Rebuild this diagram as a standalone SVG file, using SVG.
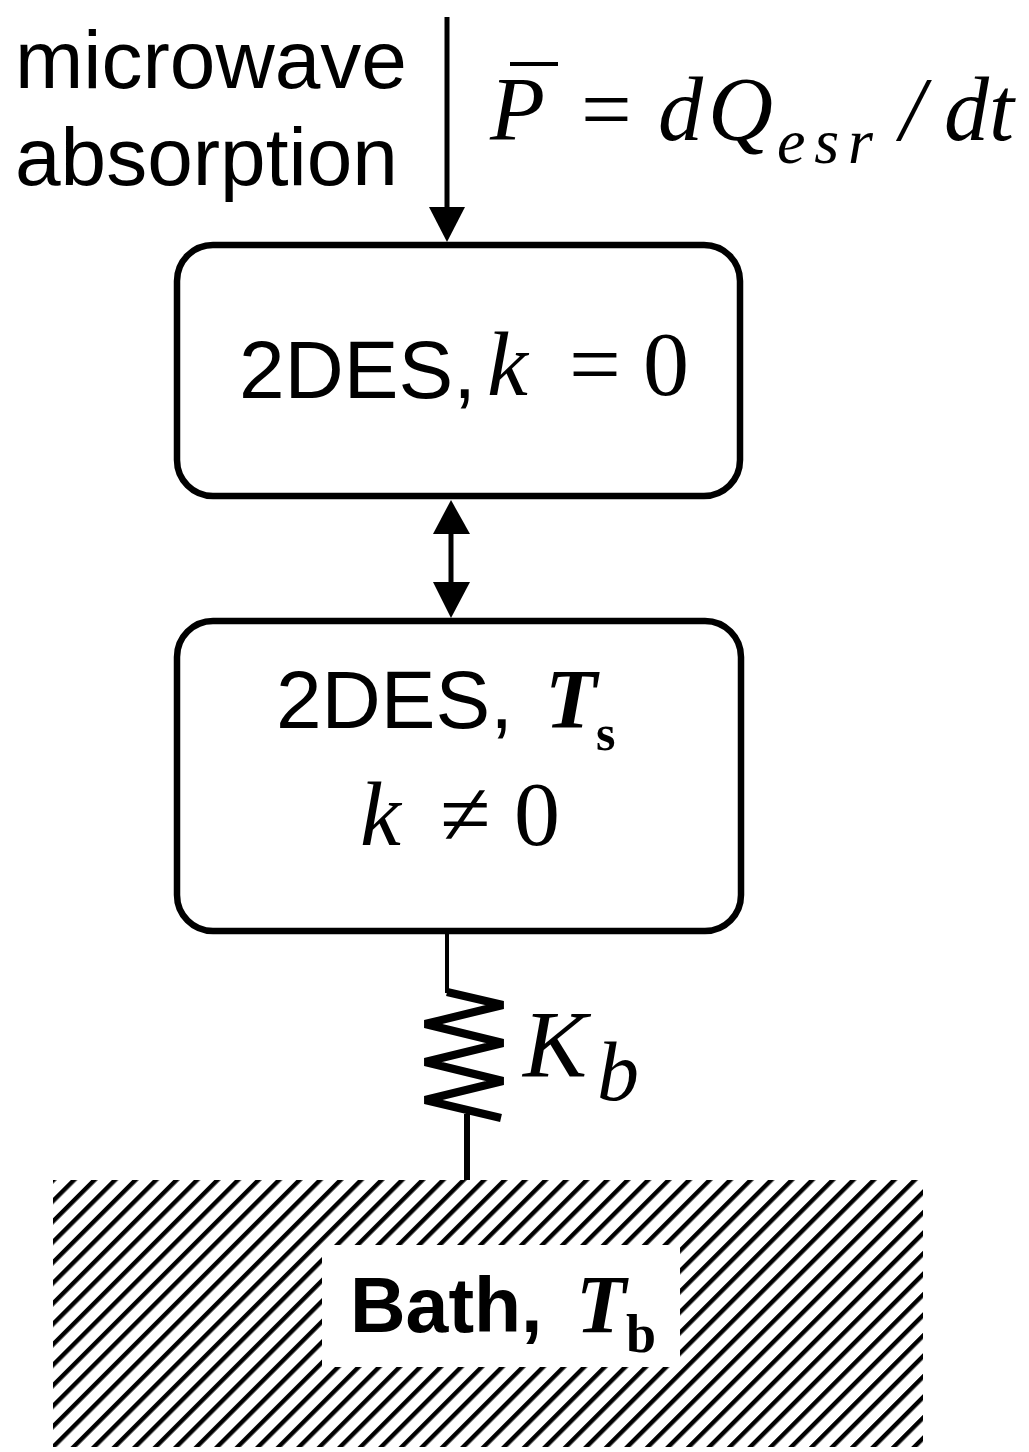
<svg xmlns="http://www.w3.org/2000/svg" width="1029" height="1452" viewBox="0 0 1029 1452">
<style>
.sans{font-family:"Liberation Sans",Arial,sans-serif;fill:#000}
.serif{font-family:"Liberation Serif","Times New Roman",serif;fill:#000}
.it{font-style:italic}
.bd{font-weight:bold}
.box{fill:#fff;stroke:#000;stroke-width:6.5}
.ln{stroke:#000;fill:none}
</style>
<defs>
<pattern id="hatch" patternUnits="userSpaceOnUse" width="14.5" height="14.5" patternTransform="rotate(-45)">
<rect x="0" y="0" width="14.5" height="4.4" fill="#000"/>
</pattern>
</defs>
<rect width="1029" height="1452" fill="#fff"/>

<g id="connectors">
<line class="ln" x1="447" y1="17" x2="447" y2="208" stroke-width="5"/>
<path d="M429,207 L465,207 L447,242 z" fill="#000"/>
<line class="ln" x1="451" y1="530" x2="451" y2="588" stroke-width="5"/>
<path d="M433,534 L470,534 L451,500 z" fill="#000"/>
<path d="M433,582 L470,582 L451,618 z" fill="#000"/>
<line class="ln" x1="447" y1="932" x2="447" y2="993" stroke-width="4"/>
<line class="ln" x1="467" y1="1114" x2="467" y2="1180" stroke-width="6"/>
</g>

<g id="node-absorption-label">
<text class="sans" x="15" y="88" font-size="82">microwave</text>
<text class="sans" x="15" y="185" font-size="82">absorption</text>
</g>

<g id="node-power-label">
<text class="serif it" x="490" y="140" font-size="90">P</text>
<line class="ln" x1="510" y1="64" x2="558" y2="64" stroke-width="4"/>
<text class="serif" x="581" y="140" font-size="90">=</text>
<text class="serif it" x="658" y="140" font-size="90">d</text>
<text class="serif it" x="708" y="140" font-size="90">Q</text>
<text class="serif it" font-size="64" y="163" x="777" textLength="96" lengthAdjust="spacing">esr</text>
<text class="serif it" x="900" y="140" font-size="90">/</text>
<text class="serif it" x="944" y="140" font-size="90">dt</text>
</g>

<g id="node-2des-k0">
<rect class="box" x="177" y="245" width="563" height="251" rx="36" ry="36"/>
<text class="sans" x="239" y="398" font-size="82">2DES,</text>
<text class="serif it" x="487" y="395" font-size="92">k</text>
<text class="serif" x="569" y="395" font-size="92">=</text>
<text class="serif" x="643" y="395" font-size="92">0</text>
</g>

<g id="node-2des-ts">
<rect class="box" x="177" y="621" width="564" height="310" rx="36" ry="36"/>
<text class="sans" x="276" y="728" font-size="82">2DES,</text>
<text class="serif it bd" x="545" y="728" font-size="85">T</text>
<text class="serif bd" x="596" y="750" font-size="50">s</text>
<text class="serif it" x="360" y="845" font-size="92">k</text>
<text class="serif" x="440" y="845" font-size="92">≠</text>
<text class="serif" x="514" y="845" font-size="92">0</text>
</g>

<g id="node-spring">
<polyline class="ln" stroke-width="8" stroke-linejoin="miter" points="447,992 503,1005 425,1024 503,1043 425,1062 503,1081 425,1100 501,1118"/>
<text class="serif it" x="523" y="1077" font-size="96">K</text>
<text class="serif it" x="597" y="1100" font-size="84">b</text>
</g>

<g id="node-bath">
<rect x="53" y="1180" width="870" height="267" fill="url(#hatch)"/>
<rect x="322" y="1245" width="358" height="122" fill="#fff"/>
<text class="sans bd" x="350" y="1332" font-size="77">Bath,</text>
<text class="serif it bd" x="576" y="1332" font-size="82">T</text>
<text class="serif bd" x="626" y="1352" font-size="54">b</text>
</g>
</svg>
